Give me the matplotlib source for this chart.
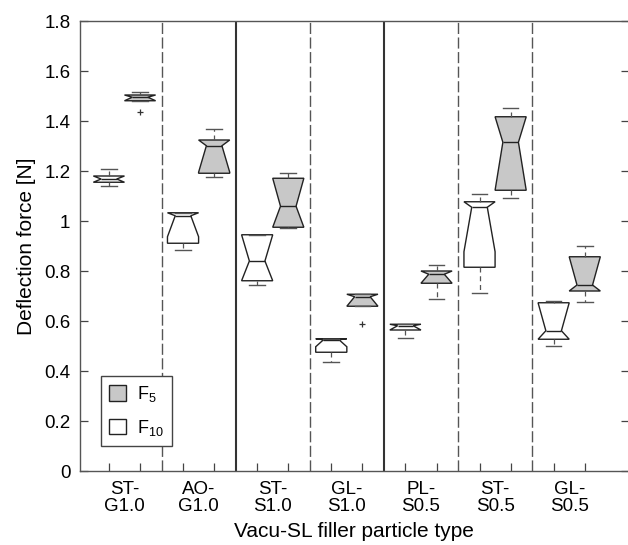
import matplotlib
matplotlib.use("Agg")
import matplotlib.pyplot as plt
from matplotlib.patches import Patch

plt.rcParams["font.family"] = ["Liberation Sans", "DejaVu Sans"]
plt.rcParams["mathtext.fontset"] = "custom"
plt.rcParams["mathtext.rm"] = "Liberation Sans"
plt.rcParams["mathtext.default"] = "regular"

# filler particle types (x groups)
labels = ["ST-\nG1.0", "AO-\nG1.0", "ST-\nS1.0", "GL-\nS1.0", "PL-\nS0.5", "ST-\nS0.5", "GL-\nS0.5"]

# F10 boxes (white) [N]
f10_whislo = [1.141, 0.885, 0.744, 0.435, 0.531, 0.713, 0.501]
f10_q1 = [1.155, 0.911, 0.761, 0.475, 0.564, 0.815, 0.527]
f10_cilo = [1.155, 0.937, 0.761, 0.497, 0.564, 0.877, 0.527]
f10_med = [1.168, 1.021, 0.840, 0.525, 0.581, 1.055, 0.561]
f10_q3 = [1.180, 1.033, 0.945, 0.529, 0.587, 1.077, 0.673]
f10_cihi = [1.180, 1.033, 0.945, 0.529, 0.587, 1.077, 0.673]
f10_whishi = [1.209, 1.033, 0.945, 0.530, 0.587, 1.108, 0.681]
f10_fliers = [[], [], [], [], [], [], []]

# F5 boxes (grey)
f5_whislo = [1.481, 1.177, 0.971, 0.659, 0.689, 1.092, 0.676]
f5_q1 = [1.481, 1.191, 0.975, 0.659, 0.751, 1.123, 0.720]
f5_cilo = [1.481, 1.195, 0.975, 0.659, 0.751, 1.123, 0.720]
f5_med = [1.495, 1.301, 1.059, 0.697, 0.787, 1.315, 0.744]
f5_q3 = [1.504, 1.324, 1.171, 0.707, 0.800, 1.417, 0.857]
f5_cihi = [1.504, 1.324, 1.171, 0.707, 0.800, 1.417, 0.857]
f5_whishi = [1.515, 1.367, 1.193, 0.707, 0.824, 1.451, 0.900]
f5_fliers = [[1.436], [], [], [0.588], [], [], []]

yticks = [0, 0.2, 0.4, 0.6, 0.8, 1, 1.2, 1.4, 1.6, 1.8]
ytick_labels = ["0", "0.2", "0.4", "0.6", "0.8", "1", "1.2", "1.4", "1.6", "1.8"]


def make_stats(whislo, q1, cilo, med, cihi, q3, whishi, fliers):
    return [dict(whislo=a, q1=b, cilo=c, med=d, cihi=e, q3=f, whishi=g, fliers=h)
            for a, b, c, d, e, f, g, h in zip(whislo, q1, cilo, med, cihi, q3, whishi, fliers)]


fig = plt.figure(figsize=(6.28, 5.45), dpi=100)
ax = fig.add_axes([80 / 628, 1 - 471 / 545, 548.5 / 628, 450 / 545])

centers = list(range(1, len(labels) + 1))
off, width = 0.21, 0.42
common = dict(widths=width, shownotches=True, patch_artist=True, showcaps=True,
              whiskerprops=dict(color="#555555", linewidth=0.9, linestyle=(0, (4, 3))),
              capprops=dict(color="#555555", linewidth=1.0),
              medianprops=dict(color="#222222", linewidth=1.0),
              flierprops=dict(marker="+", markersize=5, markeredgecolor="#333333",
                              markeredgewidth=0.9),
              capwidths=width * 0.5)

ax.bxp(make_stats(f10_whislo, f10_q1, f10_cilo, f10_med, f10_cihi, f10_q3, f10_whishi, f10_fliers),
       positions=[c - off for c in centers],
       boxprops=dict(facecolor="white", edgecolor="#222222", linewidth=1.0), **common)
ax.bxp(make_stats(f5_whislo, f5_q1, f5_cilo, f5_med, f5_cihi, f5_q3, f5_whishi, f5_fliers),
       positions=[c + off for c in centers],
       boxprops=dict(facecolor="#c8c8c8", edgecolor="#222222", linewidth=1.0), **common)

# group separators
for i in range(1, len(labels)):
    if i in (2, 4):
        ax.axvline(i + 0.5, color="#333333", linewidth=1.5, zorder=0)
    else:
        ax.axvline(i + 0.5, color="#555555", linewidth=1.0, linestyle=(0, (8, 2.5)), zorder=0)

ax.set_xlim(0.4, 7.8)
ax.set_ylim(0, 1.8)
ax.set_yticks(yticks, ytick_labels)
ax.set_xticks([c - off for c in centers] + [c + off for c in centers], [""] * (2 * len(centers)))
ax.set_xticks(centers, labels, minor=True)
ax.tick_params(axis="both", which="major", direction="in", length=6, width=0.9,
               color="#444444", labelsize=13.5, right=True)
ax.tick_params(axis="x", which="minor", length=0, labelsize=13.5, pad=7)
ax.tick_params(axis="y", pad=7)
for lab in ax.get_xticklabels(minor=True):
    lab.set_linespacing(1.05)
for s in ax.spines.values():
    s.set_color("#555555")
    s.set_linewidth(1.0)

ax.set_xlabel("Vacu-SL filler particle type", fontsize=15, labelpad=5)
ax.set_ylabel("Deflection force [N]", fontsize=15, labelpad=6)

handles = [Patch(facecolor="#c8c8c8", edgecolor="#222222", linewidth=1.0),
           Patch(facecolor="white", edgecolor="#222222", linewidth=1.0)]
leg = ax.legend(handles, ["F$_5$", "F$_{10}$"], loc="lower left",
                bbox_to_anchor=(0.038, 0.0556), borderaxespad=0, fontsize=13,
                handlelength=0.95, handleheight=0.95, handletextpad=0.6,
                labelspacing=0.75, borderpad=0.45, fancybox=False, framealpha=1)
leg.get_frame().set_edgecolor("#444444")
leg.get_frame().set_linewidth(1.0)

fig.savefig("out.png", dpi=100)
